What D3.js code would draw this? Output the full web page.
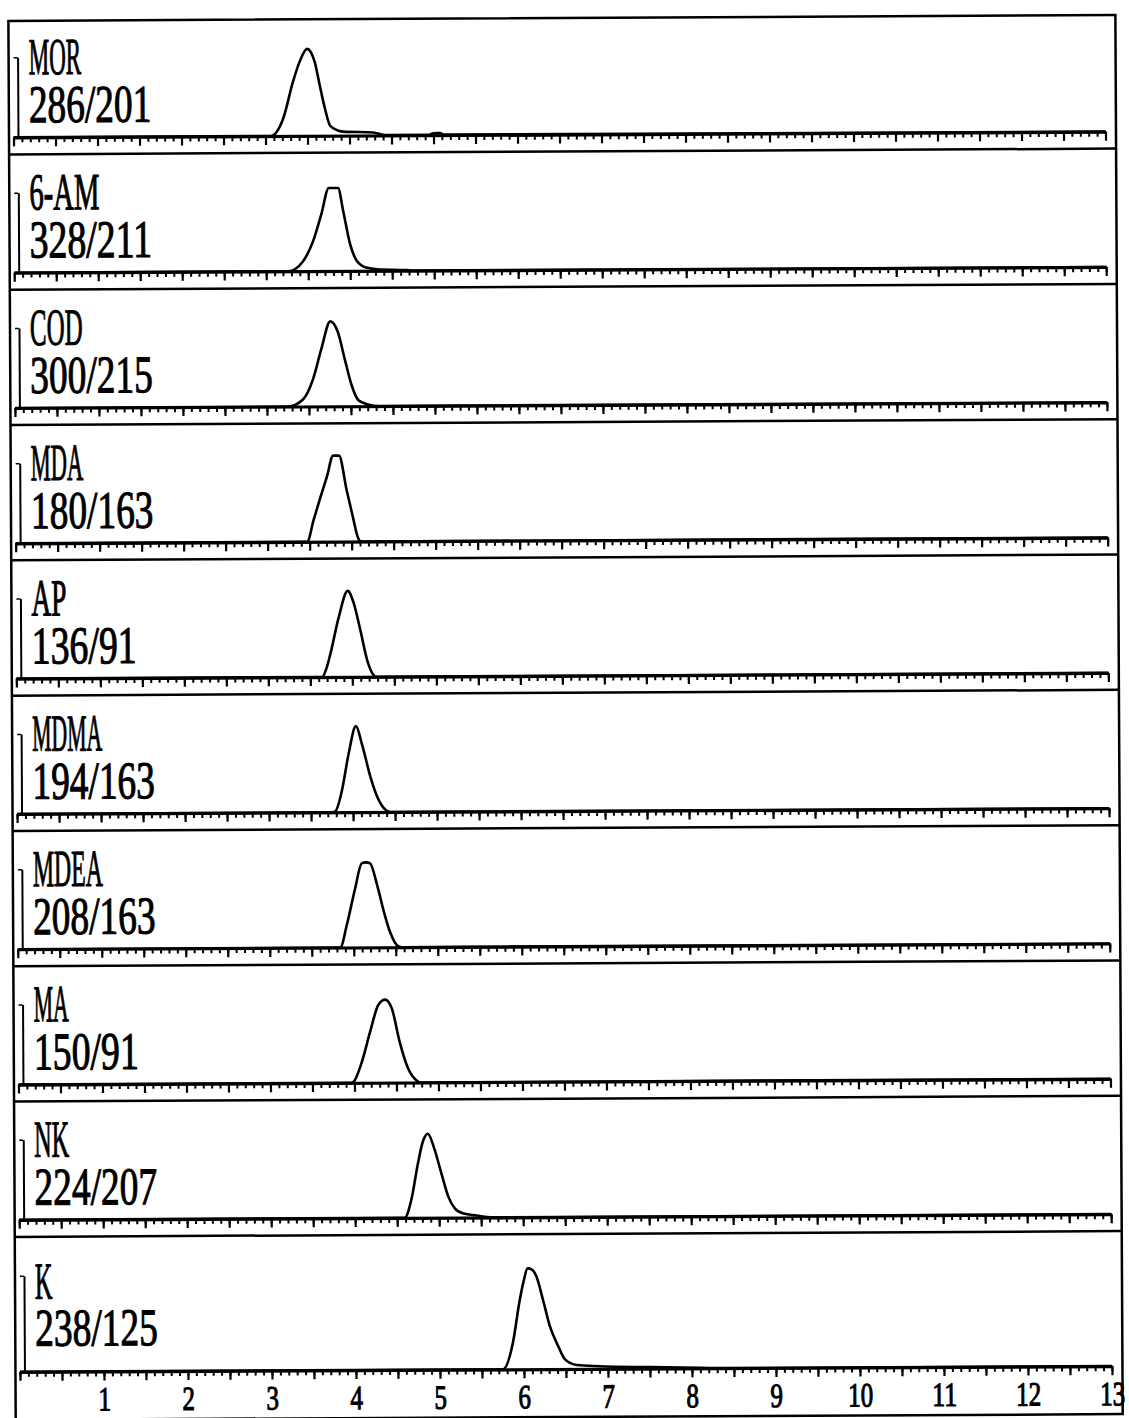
<!DOCTYPE html>
<html>
<head>
<meta charset="utf-8">
<script src="https://cdn.jsdelivr.net/npm/d3@7"></script>
<style>
  body { margin: 0; background: #fff; }
  svg { display: block; }
  .lbl { font-family: "Liberation Serif", "DejaVu Serif", serif; fill: #000; stroke: #000; stroke-width: 1.1; }
</style>
</head>
<body>
<div id="chart"></div>
<script>
// Size of the drawing area
var svgWidth = 1129;
var svgHeight = 1418;

// compounds (top to bottom) and their ion transitions
var compounds = ["MOR", "6-AM", "COD", "MDA", "AP", "MDMA", "MDEA", "MA", "NK", "K"];
var transitions = ["286/201", "328/211", "300/215", "180/163", "136/91", "194/163", "208/163", "150/91", "224/207", "238/125"];

// retention time labels (min)
var timeLabels = [1, 2, 3, 4, 5, 6, 7, 8, 9, 10, 11, 12, 13];

// traces: [time (min), relative intensity]
var morTrace = [[3.06,0],[3.21,17],[3.33,54],[3.41,74],[3.50,87],[3.59,74],[3.65,50],[3.71,27],[3.77,10],[3.87,5],[3.93,4],[4.28,3],[4.43,0.5],[4.95,0.5],[5.00,2],[5.08,2],[5.12,0.5]];
var am6Trace = [[3.26,0],[3.44,10],[3.56,30],[3.66,57],[3.75,83],[3.86,83],[3.92,60],[4.00,27],[4.08,10],[4.20,3],[4.32,1.5],[4.67,0.5],[4.75,0]];
var codTrace = [[3.25,0],[3.43,7],[3.55,27],[3.65,57],[3.76,85],[3.85,74],[3.93,47],[4.01,21],[4.09,6],[4.19,2],[4.35,0]];
var mdaTrace = [[3.47,0],[3.55,22],[3.63,44],[3.71,65],[3.785,86],[3.855,86],[3.945,51],[4.01,27],[4.08,3],[4.115,0]];
var apTrace = [[3.64,0],[3.69,8],[3.74,23],[3.84,59],[3.95,86],[4.02,74],[4.10,46],[4.18,16],[4.25,2],[4.28,0]];
var mdmaTrace = [[3.75,0],[3.79,1],[3.87,22],[3.95,58],[4.04,86],[4.11,68],[4.21,35],[4.29,15],[4.39,2],[4.44,0]];
var mdeaTrace = [[3.84,0],[3.92,23],[4.02,59],[4.10,84],[4.15,85],[4.20,84],[4.28,63],[4.36,36],[4.43,16],[4.53,1],[4.58,0]];
var maTrace = [[3.97,0],[3.99,1],[4.09,21],[4.19,51],[4.29,78],[4.37,83],[4.45,74],[4.54,41],[4.64,14],[4.74,2],[4.78,0]];
var nkTrace = [[4.59,0],[4.67,18],[4.75,54],[4.81,76],[4.87,84],[4.95,68],[5.03,44],[5.11,21],[5.19,9],[5.29,4],[5.45,2],[5.61,0]];
var kTrace = [[5.75,0],[5.87,22],[5.95,56],[6.00,73],[6.05,84],[6.10,83],[6.15,78],[6.23,58],[6.31,36],[6.41,19],[6.49,8],[6.63,3.3],[6.90,2.2],[7.50,1.2],[8.10,0.4],[8.50,0]];

var traces = [morTrace, am6Trace, codTrace, mdaTrace, apTrace, mdmaTrace, mdeaTrace, maTrace, nkTrace, kTrace];

// frame of the stacked chromatograms
var frame = {left: 12, right: 1119, top: 18, bottom: 1417};

var svg = d3.select("#chart").append("svg").attr("width", svgWidth).attr("height", svgHeight);
// the scanned page sits slightly rotated
var root = svg.append("g").attr("transform", "rotate(-0.3, 564, 709)");

// time scale, shared by every panel
var x = d3.scaleLinear().domain([0, 13]).range([16.5, 1108.5]);

// baseline position of each panel
var panelAxis = d3.scaleLinear().domain([0, 8]).range([134.5, 1217]);
function axisY(i) { return i < 9 ? panelAxis(i) : 1369; }

var minorTicks = d3.range(0, 131).map(i => i / 10);
var halfTicks = d3.range(0, 27).map(i => i / 2);

var line = d3.line().curve(d3.curveMonotoneX);

// outer frame
root.append("rect")
  .attr("x", frame.left).attr("y", frame.top)
  .attr("width", frame.right - frame.left).attr("height", frame.bottom - frame.top)
  .attr("fill", "none").attr("stroke", "#000").attr("stroke-width", 2.5);

compounds.forEach(function(name, i) {
  var ay = axisY(i);
  var plotH = i < 9 ? 100 : 120;
  var y = d3.scaleLinear().domain([0, 100]).range([ay, ay - plotH]);
  var g = root.append("g");

  // separator under the panel
  if (i < 9) {
    g.append("line")
      .attr("x1", frame.left).attr("x2", frame.right)
      .attr("y1", ay + 17).attr("y2", ay + 17)
      .attr("stroke", "#000").attr("stroke-width", 2.5);
  }

  // minor ticks every 0.1 min
  var minorAxis = g.append("g").attr("transform", `translate(0, ${ay})`)
    .call(d3.axisBottom(x).tickValues(minorTicks).tickSize(5).tickSizeOuter(0).tickFormat(""));
  minorAxis.select(".domain").attr("stroke-width", 3.2);
  minorAxis.selectAll(".tick line").attr("stroke-width", 2);

  // longer ticks every 0.5 min
  var halfAxis = g.append("g").attr("transform", `translate(0, ${ay})`)
    .call(d3.axisBottom(x).tickValues(halfTicks).tickSize(9).tickSizeOuter(0).tickFormat(""));
  halfAxis.select(".domain").remove();
  halfAxis.selectAll(".tick line").attr("stroke-width", 2.2);

  // short intensity axis
  var ySmall = d3.scaleLinear().domain([0, 80]).range([y(0), y(80)]);
  var yAxis = g.append("g").attr("transform", `translate(${x(0) + 4.5}, 0)`)
    .call(d3.axisLeft(ySmall).tickValues([80]).tickSize(4).tickSizeOuter(0).tickFormat(""));
  yAxis.select(".domain").attr("stroke-width", 2);
  yAxis.selectAll(".tick line").attr("stroke-width", 1.5);

  // chromatogram trace
  var pts = [[0, 0]].concat(traces[i], [[13, 0]]);
  g.append("path")
    .attr("d", line(pts.map(d => [x(d[0]), y(d[1])])))
    .attr("fill", "none").attr("stroke", "#000").attr("stroke-width", 2.6)
    .attr("stroke-linejoin", "round");

  // labels
  var nameY = i < 9 ? ay - 63 : ay - 73;
  var codeY = i < 9 ? ay - 15 : ay - 26;
  g.append("text").attr("class", "lbl")
    .attr("x", 32).attr("y", nameY)
    .attr("font-size", 52)
    .attr("textLength", name.length * 17.5).attr("lengthAdjust", "spacingAndGlyphs")
    .text(name);
  g.append("text").attr("class", "lbl")
    .attr("x", 32).attr("y", codeY)
    .attr("font-size", 53)
    .attr("textLength", transitions[i].length * 17.5).attr("lengthAdjust", "spacingAndGlyphs")
    .text(transitions[i]);
});

// retention time labels under the last panel
var labelAxis = root.append("g").attr("transform", `translate(0, ${axisY(9)})`)
  .call(d3.axisBottom(x).tickValues(timeLabels).tickSize(0).tickFormat(d3.format("d")));
labelAxis.select(".domain").remove();
labelAxis.selectAll(".tick text")
  .attr("class", "lbl")
  .attr("y", 39).attr("dy", 0)
  .attr("font-size", 34)
  .attr("text-anchor", "middle")
  .attr("textLength", d => String(d).length * 12.5)
  .attr("lengthAdjust", "spacingAndGlyphs");
</script>
</body>
</html>
